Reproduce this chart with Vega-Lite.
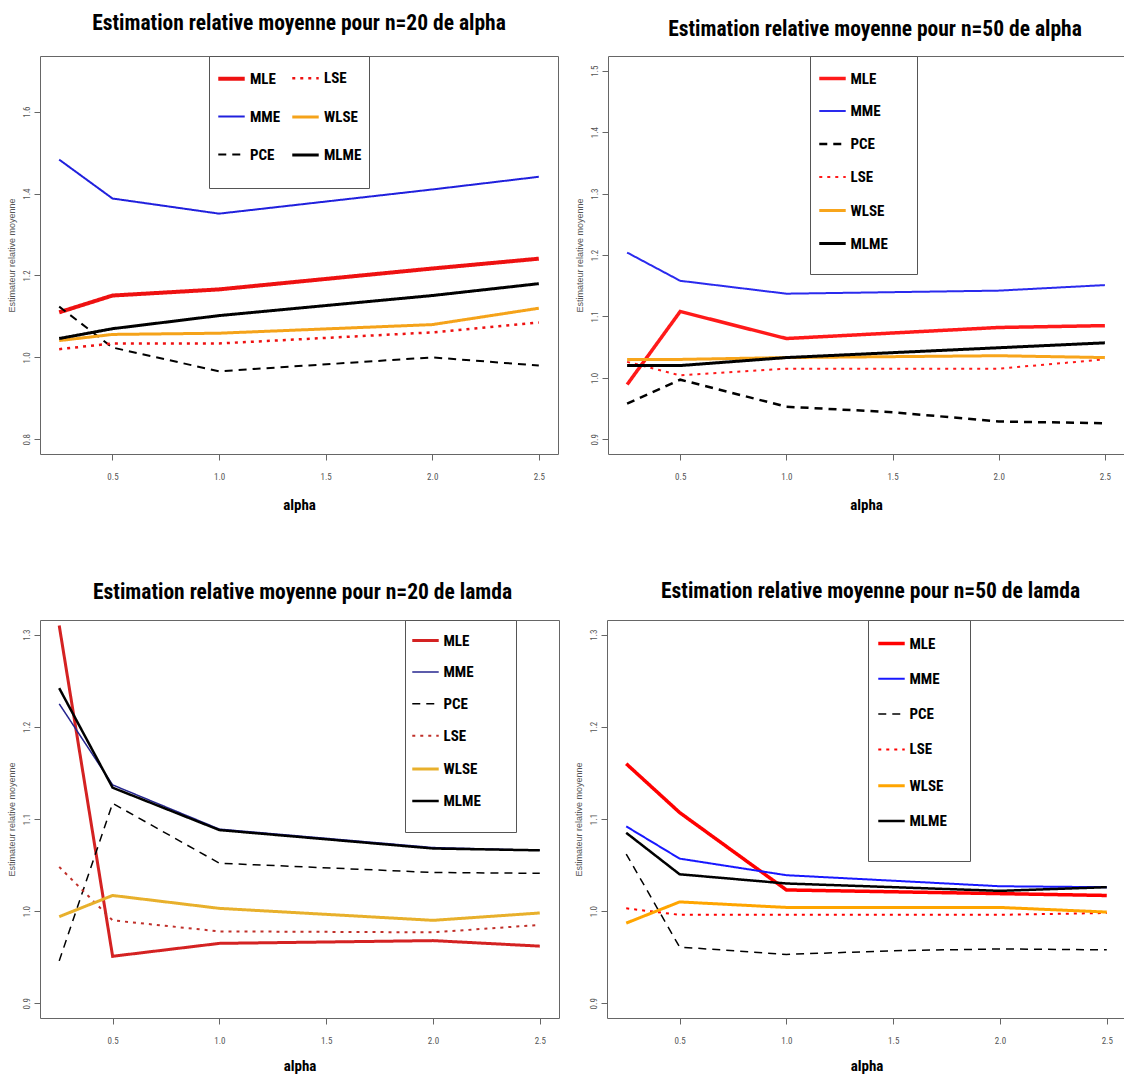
{
  "$schema": "https://vega.github.io/schema/vega-lite/v6.json",
  "background": "white",
  "padding": {"left": 6, "top": 12, "right": 0, "bottom": 0},
  "config": {
    "view": {"stroke": "#666", "strokeWidth": 1},
    "font": "Liberation Sans",
    "axis": {"grid": false, "domain": false, "tickColor": "#666", "tickSize": 6, "labelColor": "#555", "labelFontSize": 9, "labelFont": "Roboto Condensed, Liberation Sans"},
    "axisX": {"labelPadding": 12, "titlePadding": 13, "titleFont": "Roboto Condensed, Liberation Sans", "titleFontSize": 15, "titleFontWeight": "bold", "titleColor": "#000"},
    "axisY": {"labelAngle": -90, "labelAlign": "center", "labelBaseline": "bottom", "labelPadding": 3, "titlePadding": 6, "titleFont": "Liberation Sans", "titleFontSize": 9, "titleFontWeight": "normal", "titleColor": "#555"},
    "title": {"font": "Roboto Condensed, Liberation Sans", "fontSize": 21.5, "fontWeight": "bold", "anchor": "middle", "color": "#000", "offset": 14},
    "legend": {"orient": "none", "legendY": 0, "symbolType": "stroke", "symbolSize": 700, "symbolStrokeWidth": 3.5, "labelFont": "Roboto Condensed, Liberation Sans", "labelFontSize": 15, "labelFontWeight": "bold", "labelColor": "#000", "strokeColor": "#555", "fillColor": "white", "labelOffset": 3, "titleOrient": "bottom", "titleColor": "white", "titleFontSize": 14, "titleFontWeight": "bold", "titleFont": "Roboto Condensed, Liberation Sans"}
  },
  "datasets": {
    "p1": [
      {"alpha": 0.25, "estimateur": "MLE", "valeur": 1.11}, {"alpha": 0.5, "estimateur": "MLE", "valeur": 1.151}, {"alpha": 1.0, "estimateur": "MLE", "valeur": 1.166}, {"alpha": 2.0, "estimateur": "MLE", "valeur": 1.217}, {"alpha": 2.5, "estimateur": "MLE", "valeur": 1.241},
      {"alpha": 0.25, "estimateur": "MME", "valeur": 1.483}, {"alpha": 0.5, "estimateur": "MME", "valeur": 1.388}, {"alpha": 1.0, "estimateur": "MME", "valeur": 1.351}, {"alpha": 2.0, "estimateur": "MME", "valeur": 1.41}, {"alpha": 2.5, "estimateur": "MME", "valeur": 1.441},
      {"alpha": 0.25, "estimateur": "PCE", "valeur": 1.124}, {"alpha": 0.5, "estimateur": "PCE", "valeur": 1.024}, {"alpha": 1.0, "estimateur": "PCE", "valeur": 0.966}, {"alpha": 2.0, "estimateur": "PCE", "valeur": 1.0}, {"alpha": 2.5, "estimateur": "PCE", "valeur": 0.98},
      {"alpha": 0.25, "estimateur": "LSE", "valeur": 1.02}, {"alpha": 0.5, "estimateur": "LSE", "valeur": 1.034}, {"alpha": 1.0, "estimateur": "LSE", "valeur": 1.034}, {"alpha": 2.0, "estimateur": "LSE", "valeur": 1.061}, {"alpha": 2.5, "estimateur": "LSE", "valeur": 1.085},
      {"alpha": 0.25, "estimateur": "WLSE", "valeur": 1.041}, {"alpha": 0.5, "estimateur": "WLSE", "valeur": 1.056}, {"alpha": 1.0, "estimateur": "WLSE", "valeur": 1.059}, {"alpha": 2.0, "estimateur": "WLSE", "valeur": 1.08}, {"alpha": 2.5, "estimateur": "WLSE", "valeur": 1.12},
      {"alpha": 0.25, "estimateur": "MLME", "valeur": 1.046}, {"alpha": 0.5, "estimateur": "MLME", "valeur": 1.07}, {"alpha": 1.0, "estimateur": "MLME", "valeur": 1.102}, {"alpha": 2.0, "estimateur": "MLME", "valeur": 1.151}, {"alpha": 2.5, "estimateur": "MLME", "valeur": 1.18}
    ],
    "p2": [
      {"alpha": 0.25, "estimateur": "MLE", "valeur": 0.989}, {"alpha": 0.5, "estimateur": "MLE", "valeur": 1.108}, {"alpha": 1.0, "estimateur": "MLE", "valeur": 1.064}, {"alpha": 2.0, "estimateur": "MLE", "valeur": 1.082}, {"alpha": 2.5, "estimateur": "MLE", "valeur": 1.085},
      {"alpha": 0.25, "estimateur": "MME", "valeur": 1.204}, {"alpha": 0.5, "estimateur": "MME", "valeur": 1.158}, {"alpha": 1.0, "estimateur": "MME", "valeur": 1.137}, {"alpha": 2.0, "estimateur": "MME", "valeur": 1.142}, {"alpha": 2.5, "estimateur": "MME", "valeur": 1.151},
      {"alpha": 0.25, "estimateur": "PCE", "valeur": 0.958}, {"alpha": 0.5, "estimateur": "PCE", "valeur": 0.997}, {"alpha": 1.0, "estimateur": "PCE", "valeur": 0.953}, {"alpha": 1.5, "estimateur": "PCE", "valeur": 0.944}, {"alpha": 2.0, "estimateur": "PCE", "valeur": 0.929}, {"alpha": 2.5, "estimateur": "PCE", "valeur": 0.926},
      {"alpha": 0.25, "estimateur": "LSE", "valeur": 1.026}, {"alpha": 0.5, "estimateur": "LSE", "valeur": 1.004}, {"alpha": 1.0, "estimateur": "LSE", "valeur": 1.015}, {"alpha": 2.0, "estimateur": "LSE", "valeur": 1.015}, {"alpha": 2.5, "estimateur": "LSE", "valeur": 1.03},
      {"alpha": 0.25, "estimateur": "WLSE", "valeur": 1.03}, {"alpha": 0.5, "estimateur": "WLSE", "valeur": 1.03}, {"alpha": 1.0, "estimateur": "WLSE", "valeur": 1.033}, {"alpha": 2.0, "estimateur": "WLSE", "valeur": 1.036}, {"alpha": 2.5, "estimateur": "WLSE", "valeur": 1.033},
      {"alpha": 0.25, "estimateur": "MLME", "valeur": 1.02}, {"alpha": 0.5, "estimateur": "MLME", "valeur": 1.02}, {"alpha": 1.0, "estimateur": "MLME", "valeur": 1.033}, {"alpha": 2.0, "estimateur": "MLME", "valeur": 1.049}, {"alpha": 2.5, "estimateur": "MLME", "valeur": 1.057}
    ],
    "p3": [
      {"alpha": 0.25, "estimateur": "MLE", "valeur": 1.31}, {"alpha": 0.5, "estimateur": "MLE", "valeur": 0.951}, {"alpha": 1.0, "estimateur": "MLE", "valeur": 0.965}, {"alpha": 2.0, "estimateur": "MLE", "valeur": 0.968}, {"alpha": 2.5, "estimateur": "MLE", "valeur": 0.962},
      {"alpha": 0.25, "estimateur": "MME", "valeur": 1.225}, {"alpha": 0.5, "estimateur": "MME", "valeur": 1.137}, {"alpha": 1.0, "estimateur": "MME", "valeur": 1.089}, {"alpha": 2.0, "estimateur": "MME", "valeur": 1.069}, {"alpha": 2.5, "estimateur": "MME", "valeur": 1.066},
      {"alpha": 0.25, "estimateur": "PCE", "valeur": 0.946}, {"alpha": 0.5, "estimateur": "PCE", "valeur": 1.117}, {"alpha": 1.0, "estimateur": "PCE", "valeur": 1.052}, {"alpha": 2.0, "estimateur": "PCE", "valeur": 1.042}, {"alpha": 2.5, "estimateur": "PCE", "valeur": 1.041},
      {"alpha": 0.25, "estimateur": "LSE", "valeur": 1.048}, {"alpha": 0.5, "estimateur": "LSE", "valeur": 0.99}, {"alpha": 1.0, "estimateur": "LSE", "valeur": 0.978}, {"alpha": 2.0, "estimateur": "LSE", "valeur": 0.977}, {"alpha": 2.5, "estimateur": "LSE", "valeur": 0.985},
      {"alpha": 0.25, "estimateur": "WLSE", "valeur": 0.994}, {"alpha": 0.5, "estimateur": "WLSE", "valeur": 1.017}, {"alpha": 1.0, "estimateur": "WLSE", "valeur": 1.003}, {"alpha": 2.0, "estimateur": "WLSE", "valeur": 0.99}, {"alpha": 2.5, "estimateur": "WLSE", "valeur": 0.998},
      {"alpha": 0.25, "estimateur": "MLME", "valeur": 1.242}, {"alpha": 0.5, "estimateur": "MLME", "valeur": 1.134}, {"alpha": 1.0, "estimateur": "MLME", "valeur": 1.088}, {"alpha": 2.0, "estimateur": "MLME", "valeur": 1.068}, {"alpha": 2.5, "estimateur": "MLME", "valeur": 1.066}
    ],
    "p4": [
      {"alpha": 0.25, "estimateur": "MLE", "valeur": 1.16}, {"alpha": 0.5, "estimateur": "MLE", "valeur": 1.107}, {"alpha": 1.0, "estimateur": "MLE", "valeur": 1.023}, {"alpha": 2.0, "estimateur": "MLE", "valeur": 1.019}, {"alpha": 2.5, "estimateur": "MLE", "valeur": 1.017},
      {"alpha": 0.25, "estimateur": "MME", "valeur": 1.092}, {"alpha": 0.5, "estimateur": "MME", "valeur": 1.057}, {"alpha": 1.0, "estimateur": "MME", "valeur": 1.039}, {"alpha": 2.0, "estimateur": "MME", "valeur": 1.027}, {"alpha": 2.5, "estimateur": "MME", "valeur": 1.026},
      {"alpha": 0.25, "estimateur": "PCE", "valeur": 1.062}, {"alpha": 0.5, "estimateur": "PCE", "valeur": 0.961}, {"alpha": 1.0, "estimateur": "PCE", "valeur": 0.953}, {"alpha": 1.5, "estimateur": "PCE", "valeur": 0.957}, {"alpha": 2.0, "estimateur": "PCE", "valeur": 0.959}, {"alpha": 2.5, "estimateur": "PCE", "valeur": 0.958},
      {"alpha": 0.25, "estimateur": "LSE", "valeur": 1.003}, {"alpha": 0.5, "estimateur": "LSE", "valeur": 0.996}, {"alpha": 1.0, "estimateur": "LSE", "valeur": 0.996}, {"alpha": 2.0, "estimateur": "LSE", "valeur": 0.996}, {"alpha": 2.5, "estimateur": "LSE", "valeur": 0.998},
      {"alpha": 0.25, "estimateur": "WLSE", "valeur": 0.987}, {"alpha": 0.5, "estimateur": "WLSE", "valeur": 1.01}, {"alpha": 1.0, "estimateur": "WLSE", "valeur": 1.004}, {"alpha": 2.0, "estimateur": "WLSE", "valeur": 1.004}, {"alpha": 2.5, "estimateur": "WLSE", "valeur": 0.999},
      {"alpha": 0.25, "estimateur": "MLME", "valeur": 1.085}, {"alpha": 0.5, "estimateur": "MLME", "valeur": 1.04}, {"alpha": 1.0, "estimateur": "MLME", "valeur": 1.03}, {"alpha": 2.0, "estimateur": "MLME", "valeur": 1.022}, {"alpha": 2.5, "estimateur": "MLME", "valeur": 1.026}
    ]
  },
  "spacing": 67,
  "resolve": {"scale": {"color": "independent", "strokeDash": "independent", "strokeWidth": "independent"}},
  "vconcat": [
    {
      "spacing": 15,
      "resolve": {"scale": {"color": "independent", "strokeDash": "independent", "strokeWidth": "independent"}},
      "hconcat": [
        {
          "width": 518, "height": 398,
          "title": {"text": "Estimation relative moyenne pour n=20 de alpha", "offset": 21},
          "data": {"name": "p1"},
          "mark": {"type": "line", "strokeCap": "butt"},
          "encoding": {
            "x": {"field": "alpha", "type": "quantitative", "scale": {"domain": [0.16, 2.59], "nice": false, "zero": false}, "axis": {"values": [0.5, 1, 1.5, 2, 2.5], "format": ".1f", "title": "alpha", "titlePadding": 16}},
            "y": {"field": "valeur", "type": "quantitative", "scale": {"domain": [0.764, 1.736], "nice": false, "zero": false}, "axis": {"values": [0.8, 1.0, 1.2, 1.4, 1.6], "format": ".1f", "title": "Estimateur relative moyenne"}},
            "color": {"field": "estimateur", "type": "nominal", "scale": {"domain": ["MLE", "MME", "PCE", "LSE", "WLSE", "MLME"], "range": ["#EE1111", "#2020DD", "#000000", "#EE1111", "#F5A31A", "#000000"]}, "legend": {"legendX": 169, "columns": 2, "padding": 7, "rowPadding": 15, "columnPadding": 5, "title": "00", "titlePadding": 4}},
            "strokeDash": {"field": "estimateur", "type": "nominal", "scale": {"domain": ["MLE", "MME", "PCE", "LSE", "WLSE", "MLME"], "range": [[1, 0], [1, 0], [8, 6], [3, 5], [1, 0], [1, 0]]}, "legend": {"legendX": 169, "columns": 2, "padding": 7, "rowPadding": 15, "columnPadding": 5, "title": "00", "titlePadding": 4}},
            "strokeWidth": {"field": "estimateur", "type": "nominal", "scale": {"type": "ordinal", "domain": ["MLE", "MME", "PCE", "LSE", "WLSE", "MLME"], "range": [4, 2, 2, 2.5, 3, 3]}, "legend": null}
          }
        },
        {
          "width": 516, "height": 398,
          "title": {"text": "Estimation relative moyenne pour n=50 de alpha", "offset": 15, "dx": 9},
          "data": {"name": "p2"},
          "mark": {"type": "line", "strokeCap": "butt"},
          "encoding": {
            "x": {"field": "alpha", "type": "quantitative", "scale": {"domain": [0.16, 2.59], "nice": false, "zero": false}, "axis": {"values": [0.5, 1, 1.5, 2, 2.5], "format": ".1f", "title": "alpha", "titlePadding": 16}},
            "y": {"field": "valeur", "type": "quantitative", "scale": {"domain": [0.876, 1.524], "nice": false, "zero": false}, "axis": {"values": [0.9, 1.0, 1.1, 1.2, 1.3, 1.4, 1.5], "format": ".1f", "title": "Estimateur relative moyenne"}},
            "color": {"field": "estimateur", "type": "nominal", "scale": {"domain": ["MLE", "MME", "PCE", "LSE", "WLSE", "MLME"], "range": ["#FF1A1A", "#2A2AEE", "#000000", "#FF1A1A", "#F8A51B", "#000000"]}, "legend": {"legendX": 202, "padding": 7.5, "rowPadding": 10, "title": "0000000000000", "titlePadding": 1}},
            "strokeDash": {"field": "estimateur", "type": "nominal", "scale": {"domain": ["MLE", "MME", "PCE", "LSE", "WLSE", "MLME"], "range": [[1, 0], [1, 0], [8, 6], [3, 5], [1, 0], [1, 0]]}, "legend": {"legendX": 202, "padding": 7.5, "rowPadding": 10, "title": "0000000000000", "titlePadding": 1}},
            "strokeWidth": {"field": "estimateur", "type": "nominal", "scale": {"type": "ordinal", "domain": ["MLE", "MME", "PCE", "LSE", "WLSE", "MLME"], "range": [3.5, 2, 2.5, 2, 3, 3]}, "legend": null}
          }
        }
      ]
    },
    {
      "spacing": 13,
      "resolve": {"scale": {"color": "independent", "strokeDash": "independent", "strokeWidth": "independent"}},
      "hconcat": [
        {
          "width": 519, "height": 398,
          "title": {"text": "Estimation relative moyenne pour n=20 de lamda", "offset": 16, "dx": 3},
          "data": {"name": "p3"},
          "mark": {"type": "line", "strokeCap": "butt"},
          "encoding": {
            "x": {"field": "alpha", "type": "quantitative", "scale": {"domain": [0.16, 2.59], "nice": false, "zero": false}, "axis": {"values": [0.5, 1, 1.5, 2, 2.5], "format": ".1f", "title": "alpha"}},
            "y": {"field": "valeur", "type": "quantitative", "scale": {"domain": [0.884, 1.316], "nice": false, "zero": false}, "axis": {"values": [0.9, 1.0, 1.1, 1.2, 1.3], "format": ".1f", "title": "Estimateur relative moyenne"}},
            "color": {"field": "estimateur", "type": "nominal", "scale": {"domain": ["MLE", "MME", "PCE", "LSE", "WLSE", "MLME"], "range": ["#D42222", "#25258F", "#000000", "#C0302A", "#E8B02C", "#000000"]}, "legend": {"legendX": 365, "padding": 5.5, "rowPadding": 9.6, "title": "00000000000000", "titlePadding": 3}},
            "strokeDash": {"field": "estimateur", "type": "nominal", "scale": {"domain": ["MLE", "MME", "PCE", "LSE", "WLSE", "MLME"], "range": [[1, 0], [1, 0], [8, 6], [3, 5], [1, 0], [1, 0]]}, "legend": {"legendX": 365, "padding": 5.5, "rowPadding": 9.6, "title": "00000000000000", "titlePadding": 3}},
            "strokeWidth": {"field": "estimateur", "type": "nominal", "scale": {"type": "ordinal", "domain": ["MLE", "MME", "PCE", "LSE", "WLSE", "MLME"], "range": [3, 1.5, 1.5, 2, 3, 2.5]}, "legend": null}
          }
        },
        {
          "width": 519, "height": 398,
          "title": {"text": "Estimation relative moyenne pour n=50 de lamda", "offset": 17, "dx": 4},
          "data": {"name": "p4"},
          "mark": {"type": "line", "strokeCap": "butt"},
          "encoding": {
            "x": {"field": "alpha", "type": "quantitative", "scale": {"domain": [0.16, 2.59], "nice": false, "zero": false}, "axis": {"values": [0.5, 1, 1.5, 2, 2.5], "format": ".1f", "title": "alpha"}},
            "y": {"field": "valeur", "type": "quantitative", "scale": {"domain": [0.884, 1.316], "nice": false, "zero": false}, "axis": {"values": [0.9, 1.0, 1.1, 1.2, 1.3], "format": ".1f", "title": "Estimateur relative moyenne"}},
            "color": {"field": "estimateur", "type": "nominal", "scale": {"domain": ["MLE", "MME", "PCE", "LSE", "WLSE", "MLME"], "range": ["#FF0000", "#1818FF", "#000000", "#FF0000", "#FFA500", "#000000"]}, "legend": {"legendX": 261, "padding": 8.5, "rowPadding": 12.8, "title": "000000000000", "titlePadding": 9}},
            "strokeDash": {"field": "estimateur", "type": "nominal", "scale": {"domain": ["MLE", "MME", "PCE", "LSE", "WLSE", "MLME"], "range": [[1, 0], [1, 0], [8, 6], [3, 5], [1, 0], [1, 0]]}, "legend": {"legendX": 261, "padding": 8.5, "rowPadding": 12.8, "title": "000000000000", "titlePadding": 9}},
            "strokeWidth": {"field": "estimateur", "type": "nominal", "scale": {"type": "ordinal", "domain": ["MLE", "MME", "PCE", "LSE", "WLSE", "MLME"], "range": [3.5, 2, 1.5, 2, 3, 2.5]}, "legend": null}
          }
        }
      ]
    }
  ]
}
